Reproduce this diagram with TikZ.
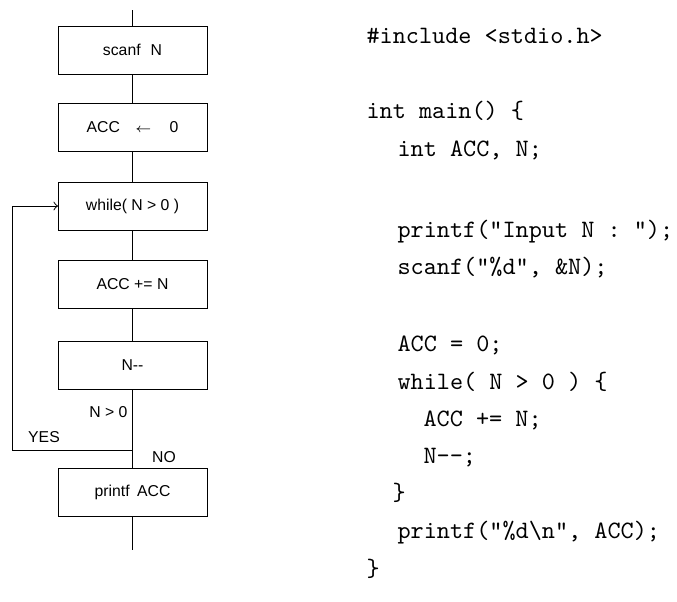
\documentclass[tikz,border=0pt]{standalone}
\usepackage{fontspec}
\newfontfamily\chartfont{Liberation Sans}
\usetikzlibrary{arrows}
\tikzset{
  procbox/.style={draw, line width=0.4pt, minimum width=59.6pt, minimum height=19.2pt,
    inner sep=0pt, outer sep=0pt, font=\chartfont\fontsize{6.3}{7}\selectfont},
  flowlabel/.style={inner sep=0pt, font=\chartfont\fontsize{6.3}{7}\selectfont},
  codeline/.style={anchor=base west, inner sep=0pt, font=\ttfamily\fontsize{10}{12}\selectfont}
}
\begin{document}
\begin{tikzpicture}[x=0.4pt, y=-0.4pt, line width=0.4pt]
\useasboundingbox (0,0) rectangle (677,601);
% flowchart
\coordinate (T0) at (132.5,10);
\node[procbox] (B1) at (132.5,50)  {scanf\hspace{4pt}N};
\node[procbox] (B2) at (132.5,127) {ACC\hspace{6pt}{\fontsize{5}{6}\selectfont$\leftarrow$}\hspace{7pt}0};
\node[procbox] (B3) at (132.5,206) {while( N > 0 )};
\node[procbox] (B4) at (132.5,284) {ACC += N};
\node[procbox] (B5) at (132.5,365) {N-\kern0pt-};
\node[procbox] (B6) at (132.5,492) {printf\hspace{3pt}ACC};
\coordinate (J1) at (132.5,450);
\coordinate (K1) at (12,450);
\coordinate (E0) at (132.5,550);

\draw (T0) -- (B1);
\draw (B1) -- (B2);
\draw (B2) -- (B3);
\draw (B3) -- (B4);
\draw (B4) -- (B5);
\draw (B5) -- (J1) -- (B6);
\draw (B6) -- (E0);
\draw[->] (J1) -- (K1) |- (B3.west);

\node[flowlabel, anchor=east] (L1) at (128,412) {N > 0};
\node[flowlabel] (L2) at (44,437) {YES};
\node[flowlabel] (L3) at (164,457) {NO};

% program
\node[codeline] (C1)  at (366,43)  {\#include <stdio.h>};
\node[codeline] (C2)  at (366,118) {int main() \{};
\node[codeline] (C3)  at (397,156) {int ACC, N;};
\node[codeline] (C4)  at (397,237) {printf("Input N : ");};
\node[codeline] (C5)  at (397,274) {scanf("\%d", \&N);};
\node[codeline] (C6)  at (397,351) {ACC = 0;};
\node[codeline] (C7)  at (397,389) {while( N > 0 ) \{};
\node[codeline] (C8)  at (423,426) {ACC += N;};
\node[codeline] (C9)  at (423,463) {N-\kern0pt-;};
\node[codeline] (C10) at (392,500) {\}};
\node[codeline] (C11) at (397,538) {printf("\%d\textbackslash n", ACC);};
\node[codeline] (C12) at (366,576) {\}};
\end{tikzpicture}
\end{document}
